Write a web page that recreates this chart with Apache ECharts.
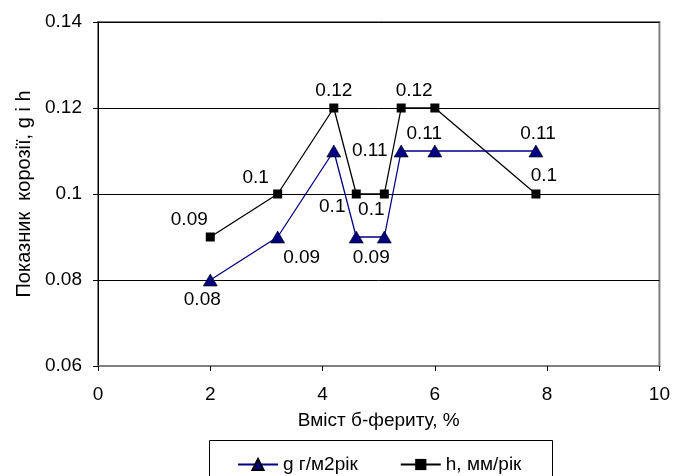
<!DOCTYPE html>
<html>
<head>
<meta charset="utf-8">
<script src="https://cdn.jsdelivr.net/npm/echarts@6/dist/echarts.min.js"></script>
<style>
html,body{margin:0;padding:0;background:#fff;}
#chart{width:673px;height:476px;}
</style>
</head>
<body>
<div id="chart"></div>
<script>
// ---- data ----
const xValues = [2, 3.2, 4.2, 4.6, 5.1, 5.4, 6, 7.8];
const gValues = [0.08, 0.09, 0.11, 0.09, 0.09, 0.11, 0.11, 0.11];
const hValues = [0.09, 0.1, 0.12, 0.1, 0.1, 0.12, 0.12, 0.1];
const xTicks = [0, 2, 4, 6, 8, 10];
const yTicks = [0.06, 0.08, 0.1, 0.12, 0.14];
const seriesNames = ['g г/м2рік', 'h, мм/рік'];
const xAxisTitle = 'Вміст б-фериту, %';
const yAxisTitle = 'Показник  корозії, g i h';

// ---- label placement (style only) ----
const gLabelOffsets = [[-8, 20], [24, 21], [36, 0], [15, 21], null, [23, -17], null, [2, -17]];
const hLabelOffsets = [[-21, -17], [-22, -16], [0, -17], [-24, 13], [-13, 16], [13, -17], null, [8, -18]];

const FONT = 'Liberation Sans, Arial, sans-serif';
const FS = 19;

function buildData(vals, offsets) {
  return xValues.map((x, i) => {
    const off = offsets[i];
    return {
      value: [x, vals[i]],
      label: off ? { show: true, position: 'inside', offset: off } : { show: false }
    };
  });
}

const chart = echarts.init(document.getElementById('chart'), null, { renderer: 'canvas' });
chart.setOption({
  animation: false,
  backgroundColor: '#fff',
  grid: {
    left: 98, right: 13, top: 22, bottom: 110,
    show: true, borderColor: '#808080', borderWidth: 2, backgroundColor: 'transparent'
  },
  xAxis: {
    type: 'value',
    min: xTicks[0], max: xTicks[xTicks.length - 1], interval: xTicks[1] - xTicks[0],
    name: xAxisTitle, nameLocation: 'middle', nameGap: 45,
    nameTextStyle: { fontFamily: FONT, fontSize: FS, color: '#000' },
    axisLine: { show: true, lineStyle: { color: '#7f7f7f', width: 2 } },
    axisTick: { show: true, inside: false, length: 5, lineStyle: { color: '#000', width: 1 } },
    axisLabel: { fontFamily: FONT, fontSize: FS, color: '#000', margin: 19 },
    splitLine: { show: false }
  },
  yAxis: {
    type: 'value',
    min: yTicks[0], max: yTicks[yTicks.length - 1], interval: 0.02,
    name: yAxisTitle, nameLocation: 'middle', nameGap: 60, nameRotate: 90,
    nameTextStyle: { fontFamily: FONT, fontSize: 20, color: '#000' },
    axisLine: { show: true, lineStyle: { color: '#000', width: 1 } },
    axisTick: { show: true, inside: false, length: 5, lineStyle: { color: '#000', width: 1 } },
    axisLabel: {
      fontFamily: FONT, fontSize: FS, color: '#000', margin: 16,
      formatter: v => String(parseFloat(v.toFixed(2)))
    },
    splitLine: { show: true, lineStyle: { color: '#000', width: 1 } }
  },
  legend: {
    left: 232, top: 450,
    itemWidth: 40, itemHeight: 14, itemGap: 42,
    textStyle: { fontFamily: FONT, fontSize: FS, color: '#000' },
    data: seriesNames
  },
  graphic: [{
    type: 'rect', z: 100, silent: true,
    shape: { x: 209.5, y: 440.5, width: 343, height: 60 },
    style: { fill: 'none', stroke: '#000', lineWidth: 1 }
  }],
  series: [
    {
      name: seriesNames[0], type: 'line',
      data: buildData(gValues, gLabelOffsets),
      symbol: 'triangle', symbolSize: [14, 12],
      lineStyle: { color: '#000080', width: 1.3 },
      itemStyle: { color: '#000080', borderColor: '#000', borderWidth: 0.6 },
      label: { fontFamily: FONT, fontSize: FS, color: '#000', formatter: p => String(p.value[1]) },
      z: 3
    },
    {
      name: seriesNames[1], type: 'line',
      data: buildData(hValues, hLabelOffsets),
      symbol: 'rect', symbolSize: 9,
      lineStyle: { color: '#000', width: 1.3 },
      itemStyle: { color: '#000', borderColor: '#000', borderWidth: 0 },
      label: { fontFamily: FONT, fontSize: FS, color: '#000', formatter: p => String(p.value[1]) },
      z: 2
    }
  ]
});
</script>
</body>
</html>
